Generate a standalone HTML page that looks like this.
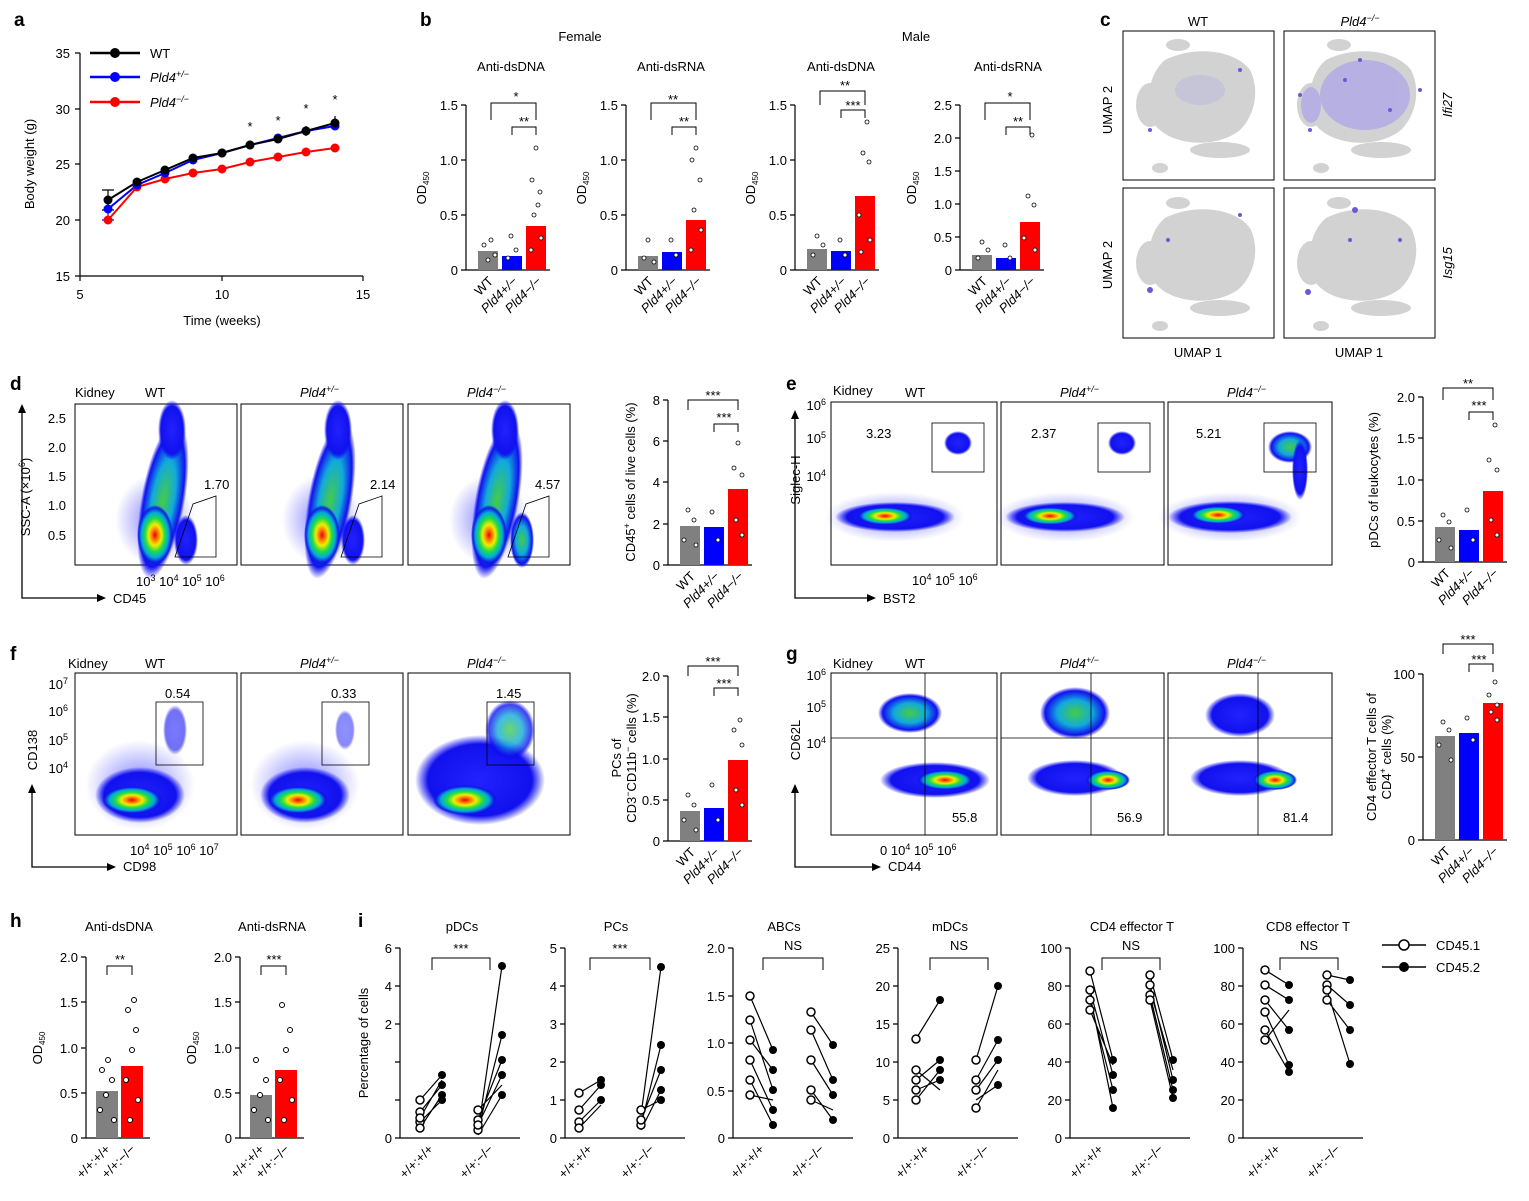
<!DOCTYPE html>
<html><head><meta charset="utf-8"><style>
body{margin:0;background:#fff}
svg{display:block;font-family:"Liberation Sans",Arial,sans-serif}
.t{font-size:13px}.s{font-size:12px}.b{font-size:19px;font-weight:bold}
.i{font-style:italic}
</style></head><body>
<svg width="1529" height="1201" viewBox="0 0 1529 1201" xmlns="http://www.w3.org/2000/svg">
<defs>
<radialGradient id="h"><stop offset="0" stop-color="#e00"/><stop offset="0.2" stop-color="#f80"/><stop offset="0.35" stop-color="#ee0"/><stop offset="0.55" stop-color="#2d4"/><stop offset="0.75" stop-color="#0ad"/><stop offset="0.9" stop-color="#12d"/><stop offset="1" stop-color="#00f" stop-opacity="0"/></radialGradient>
<radialGradient id="g"><stop offset="0" stop-color="#4c4"/><stop offset="0.5" stop-color="#1ad"/><stop offset="0.85" stop-color="#11e"/><stop offset="1" stop-color="#00f" stop-opacity="0"/></radialGradient>
<radialGradient id="bl"><stop offset="0" stop-color="#22f"/><stop offset="0.8" stop-color="#11e"/><stop offset="1" stop-color="#00f" stop-opacity="0"/></radialGradient>
<radialGradient id="sp"><stop offset="0" stop-color="#00f" stop-opacity="0.5"/><stop offset="1" stop-color="#00f" stop-opacity="0"/></radialGradient>
</defs>
<g fill="#000" stroke="none">
<text class="b" x="14" y="26">a</text><text class="b" x="420" y="26">b</text><text class="b" x="1100" y="26">c</text>
<text class="b" x="10" y="390">d</text><text class="b" x="786" y="390">e</text>
<text class="b" x="10" y="660">f</text><text class="b" x="786" y="660">g</text>
<text class="b" x="10" y="927">h</text><text class="b" x="358" y="927">i</text>
</g>

<!-- Panel a -->
<g stroke="#000" stroke-width="1.2" fill="none">
<path d="M80 53V276H363M75 53h5M75 109h5M75 164h5M75 220h5M75 276h5M80 276v5M222 276v5M363 276v5"/>
</g>
<g class="t" text-anchor="end"><text x="70" y="58">35</text><text x="70" y="114">30</text><text x="70" y="169">25</text><text x="70" y="225">20</text><text x="70" y="281">15</text></g>
<g class="t" text-anchor="middle"><text x="80" y="299">5</text><text x="222" y="299">10</text><text x="363" y="299">15</text><text x="222" y="325">Time (weeks)</text></g>
<text class="t" transform="translate(34 164) rotate(-90)" text-anchor="middle">Body weight (g)</text>
<polyline fill="none" stroke="#f00" stroke-width="2" points="108,220 137,187 165,179 193,173 222,169 250,162 278,157 306,152 335,148"/>
<polyline fill="none" stroke="#00f" stroke-width="2" points="108,209 137,185 165,173 193,160 222,153 250,145 278,138 306,131 335,126"/>
<polyline fill="none" stroke="#000" stroke-width="2" points="108,200 137,182 165,170 193,158 222,153 250,145 278,139 306,131 335,123"/>
<g stroke="#000" stroke-width="1.2"><path d="M108 190v20M137 178v9M306 126v10M335 116v13M102 190h12M102 210h12"/><path stroke="#00f" d="M108 198v22M102 220h12"/></g>
<g fill="#f00"><circle cx="108" cy="220" r="4.5"/><circle cx="137" cy="187" r="4.5"/><circle cx="165" cy="179" r="4.5"/><circle cx="193" cy="173" r="4.5"/><circle cx="222" cy="169" r="4.5"/><circle cx="250" cy="162" r="4.5"/><circle cx="278" cy="157" r="4.5"/><circle cx="306" cy="152" r="4.5"/><circle cx="335" cy="148" r="4.5"/></g>
<g fill="#00f"><circle cx="108" cy="209" r="4.5"/><circle cx="137" cy="185" r="4.5"/><circle cx="165" cy="173" r="4.5"/><circle cx="193" cy="160" r="4.5"/><circle cx="222" cy="153" r="4.5"/><circle cx="250" cy="145" r="4.5"/><circle cx="278" cy="138" r="4.5"/><circle cx="306" cy="131" r="4.5"/><circle cx="335" cy="126" r="4.5"/></g>
<g fill="#000"><circle cx="108" cy="200" r="4.5"/><circle cx="137" cy="182" r="4.5"/><circle cx="165" cy="170" r="4.5"/><circle cx="193" cy="158" r="4.5"/><circle cx="222" cy="153" r="4.5"/><circle cx="250" cy="145" r="4.5"/><circle cx="278" cy="139" r="4.5"/><circle cx="306" cy="131" r="4.5"/><circle cx="335" cy="123" r="4.5"/></g>
<g class="t" text-anchor="middle"><text x="250" y="131">*</text><text x="278" y="125">*</text><text x="306" y="113">*</text><text x="335" y="104">*</text></g>
<g stroke-width="2.5"><path stroke="#000" d="M90 53h50"/><path stroke="#00f" d="M90 77h50"/><path stroke="#f00" d="M90 102h50"/></g>
<circle cx="115" cy="53" r="5"/><circle cx="115" cy="77" r="5" fill="#00f"/><circle cx="115" cy="102" r="5" fill="#f00"/>
<g class="t"><text x="150" y="58">WT</text><text x="150" y="82" class="i t">Pld4<tspan font-size="9" dy="-5">+/−</tspan></text><text x="150" y="107" class="i t">Pld4<tspan font-size="9" dy="-5">−/−</tspan></text></g>

<!-- Panel b -->
<g class="t" text-anchor="middle"><text x="580" y="41">Female</text><text x="916" y="41">Male</text>
<text x="511" y="71">Anti-dsDNA</text><text x="671" y="71">Anti-dsRNA</text><text x="841" y="71">Anti-dsDNA</text><text x="1008" y="71">Anti-dsRNA</text></g>
<g transform="translate(466 0)">
<path fill="none" stroke="#000" stroke-width="1.2" d="M0 105V270H84M-5 105h5M-5 160h5M-5 215h5M-5 270h5"/>
<g class="t" text-anchor="end"><text x="-8" y="110">1.5</text><text x="-8" y="165">1.0</text><text x="-8" y="220">0.5</text><text x="-8" y="275">0</text></g>
<text class="t" transform="translate(-40 188) rotate(-90)" text-anchor="middle">OD<tspan font-size="8" dy="3">450</tspan></text>
<rect x="12" y="251" width="20" height="19" fill="#808080"/><rect x="36" y="256" width="20" height="14" fill="#00f"/><rect x="60" y="226" width="20" height="44" fill="#f00"/>
<g fill="#fff" stroke="#000" stroke-width="0.8"><circle cx="18" cy="245" r="2"/><circle cx="25" cy="240" r="2"/><circle cx="22" cy="260" r="2"/><circle cx="29" cy="255" r="2"/><circle cx="45" cy="236" r="2"/><circle cx="42" cy="258" r="2"/><circle cx="50" cy="250" r="2"/><circle cx="70" cy="148" r="2"/><circle cx="66" cy="180" r="2"/><circle cx="74" cy="192" r="2"/><circle cx="68" cy="215" r="2"/><circle cx="75" cy="238" r="2"/><circle cx="65" cy="250" r="2"/><circle cx="72" cy="205" r="2"/></g>
<path fill="none" stroke="#000" d="M25 120v-17h45v17M46 135v-8h24v8"/>
<g class="t" text-anchor="middle"><text x="50" y="101">*</text><text x="58" y="126">**</text></g>
<g class="t" text-anchor="end"><text transform="translate(28 282) rotate(-45)">WT</text><text class="i" transform="translate(52 282) rotate(-45)">Pld4+/−</text><text class="i" transform="translate(76 282) rotate(-45)">Pld4−/−</text></g>
</g>
<g transform="translate(626 0)">
<path fill="none" stroke="#000" stroke-width="1.2" d="M0 105V270H84M-5 105h5M-5 160h5M-5 215h5M-5 270h5"/>
<g class="t" text-anchor="end"><text x="-8" y="110">1.5</text><text x="-8" y="165">1.0</text><text x="-8" y="220">0.5</text><text x="-8" y="275">0</text></g>
<text class="t" transform="translate(-40 188) rotate(-90)" text-anchor="middle">OD<tspan font-size="8" dy="3">450</tspan></text>
<rect x="12" y="256" width="20" height="14" fill="#808080"/><rect x="36" y="252" width="20" height="18" fill="#00f"/><rect x="60" y="220" width="20" height="50" fill="#f00"/>
<g fill="#fff" stroke="#000" stroke-width="0.8"><circle cx="22" cy="240" r="2"/><circle cx="18" cy="258" r="2"/><circle cx="28" cy="262" r="2"/><circle cx="45" cy="240" r="2"/><circle cx="50" cy="255" r="2"/><circle cx="70" cy="148" r="2"/><circle cx="66" cy="160" r="2"/><circle cx="74" cy="180" r="2"/><circle cx="68" cy="210" r="2"/><circle cx="75" cy="230" r="2"/><circle cx="65" cy="250" r="2"/></g>
<path fill="none" stroke="#000" d="M25 120v-17h45v17M46 135v-8h24v8"/>
<g class="t" text-anchor="middle"><text x="47" y="104">**</text><text x="58" y="126">**</text></g>
<g class="t" text-anchor="end"><text transform="translate(28 282) rotate(-45)">WT</text><text class="i" transform="translate(52 282) rotate(-45)">Pld4+/−</text><text class="i" transform="translate(76 282) rotate(-45)">Pld4−/−</text></g>
</g>
<g transform="translate(795 0)">
<path fill="none" stroke="#000" stroke-width="1.2" d="M0 105V270H84M-5 105h5M-5 160h5M-5 215h5M-5 270h5"/>
<g class="t" text-anchor="end"><text x="-8" y="110">1.5</text><text x="-8" y="165">1.0</text><text x="-8" y="220">0.5</text><text x="-8" y="275">0</text></g>
<text class="t" transform="translate(-40 188) rotate(-90)" text-anchor="middle">OD<tspan font-size="8" dy="3">450</tspan></text>
<rect x="12" y="249" width="20" height="21" fill="#808080"/><rect x="36" y="251" width="20" height="19" fill="#00f"/><rect x="60" y="196" width="20" height="74" fill="#f00"/>
<g fill="#fff" stroke="#000" stroke-width="0.8"><circle cx="22" cy="236" r="2"/><circle cx="18" cy="255" r="2"/><circle cx="28" cy="245" r="2"/><circle cx="45" cy="240" r="2"/><circle cx="50" cy="255" r="2"/><circle cx="72" cy="122" r="2"/><circle cx="68" cy="153" r="2"/><circle cx="74" cy="162" r="2"/><circle cx="64" cy="215" r="2"/><circle cx="75" cy="240" r="2"/><circle cx="66" cy="252" r="2"/></g>
<path fill="none" stroke="#000" d="M25 105v-14h45v14M46 118v-8h24v8"/>
<g class="t" text-anchor="middle"><text x="50" y="90">**</text><text x="58" y="110">***</text></g>
<g class="t" text-anchor="end"><text transform="translate(28 282) rotate(-45)">WT</text><text class="i" transform="translate(52 282) rotate(-45)">Pld4+/−</text><text class="i" transform="translate(76 282) rotate(-45)">Pld4−/−</text></g>
</g>
<g transform="translate(960 0)">
<path fill="none" stroke="#000" stroke-width="1.2" d="M0 105V270H84M-5 105h5M-5 138h5M-5 171h5M-5 204h5M-5 237h5M-5 270h5"/>
<g class="t" text-anchor="end"><text x="-8" y="110">2.5</text><text x="-8" y="143">2.0</text><text x="-8" y="176">1.5</text><text x="-8" y="209">1.0</text><text x="-8" y="242">0.5</text><text x="-8" y="275">0</text></g>
<text class="t" transform="translate(-44 188) rotate(-90)" text-anchor="middle">OD<tspan font-size="8" dy="3">450</tspan></text>
<rect x="12" y="255" width="20" height="15" fill="#808080"/><rect x="36" y="258" width="20" height="12" fill="#00f"/><rect x="60" y="222" width="20" height="48" fill="#f00"/>
<g fill="#fff" stroke="#000" stroke-width="0.8"><circle cx="22" cy="242" r="2"/><circle cx="18" cy="258" r="2"/><circle cx="28" cy="250" r="2"/><circle cx="45" cy="245" r="2"/><circle cx="50" cy="258" r="2"/><circle cx="72" cy="135" r="2"/><circle cx="68" cy="196" r="2"/><circle cx="74" cy="205" r="2"/><circle cx="64" cy="238" r="2"/><circle cx="75" cy="250" r="2"/></g>
<path fill="none" stroke="#000" d="M25 120v-17h45v17M46 135v-8h24v8"/>
<g class="t" text-anchor="middle"><text x="50" y="101">*</text><text x="58" y="126">**</text></g>
<g class="t" text-anchor="end"><text transform="translate(28 282) rotate(-45)">WT</text><text class="i" transform="translate(52 282) rotate(-45)">Pld4+/−</text><text class="i" transform="translate(76 282) rotate(-45)">Pld4−/−</text></g>
</g>

<!-- Panel c -->
<g class="t" text-anchor="middle"><text x="1198" y="26">WT</text><text x="1360" y="26" class="i">Pld4<tspan font-size="9" dy="-5">−/−</tspan></text>
<text x="1198" y="357">UMAP 1</text><text x="1359" y="357">UMAP 1</text>
<text transform="translate(1112 110) rotate(-90)">UMAP 2</text><text transform="translate(1112 265) rotate(-90)">UMAP 2</text>
<text class="i" transform="translate(1452 105) rotate(-90)">Ifi27</text><text class="i" transform="translate(1452 263) rotate(-90)">Isg15</text></g>
<g fill="none" stroke="#000" stroke-width="1"><rect x="1123" y="31" width="151" height="149"/><rect x="1284" y="31" width="151" height="149"/><rect x="1123" y="188" width="151" height="150"/><rect x="1284" y="188" width="151" height="150"/></g>
<g fill="#d2d2d2">
<path d="M1165 60c30-15 70-10 85 10c10 20 5 45-10 60c-25 20-70 15-85-5c-10-20-8-50 10-65z"/><ellipse cx="1150" cy="105" rx="14" ry="22"/><ellipse cx="1220" cy="150" rx="30" ry="8"/><ellipse cx="1178" cy="45" rx="12" ry="6"/><ellipse cx="1160" cy="168" rx="8" ry="5"/>
<path d="M1326 60c30-15 70-10 85 10c10 20 5 45-10 60c-25 20-70 15-85-5c-10-20-8-50 10-65z"/><ellipse cx="1311" cy="105" rx="14" ry="22"/><ellipse cx="1381" cy="150" rx="30" ry="8"/><ellipse cx="1339" cy="45" rx="12" ry="6"/><ellipse cx="1321" cy="168" rx="8" ry="5"/>
<path d="M1165 218c30-15 70-10 85 10c10 20 5 45-10 60c-25 20-70 15-85-5c-10-20-8-50 10-65z"/><ellipse cx="1150" cy="263" rx="14" ry="22"/><ellipse cx="1220" cy="308" rx="30" ry="8"/><ellipse cx="1178" cy="203" rx="12" ry="6"/><ellipse cx="1160" cy="326" rx="8" ry="5"/>
<path d="M1326 218c30-15 70-10 85 10c10 20 5 45-10 60c-25 20-70 15-85-5c-10-20-8-50 10-65z"/><ellipse cx="1311" cy="263" rx="14" ry="22"/><ellipse cx="1381" cy="308" rx="30" ry="8"/><ellipse cx="1339" cy="203" rx="12" ry="6"/><ellipse cx="1321" cy="326" rx="8" ry="5"/>
</g>
<g fill="#b0aae6" opacity="0.8"><ellipse cx="1365" cy="95" rx="45" ry="35"/><ellipse cx="1311" cy="105" rx="10" ry="18"/><ellipse cx="1200" cy="90" rx="25" ry="15" opacity="0.4"/></g>
<g fill="#6a5ad8"><circle cx="1150" cy="130" r="2"/><circle cx="1240" cy="70" r="2"/><circle cx="1345" cy="80" r="2"/><circle cx="1390" cy="110" r="2"/><circle cx="1310" cy="130" r="2"/><circle cx="1300" cy="95" r="2"/><circle cx="1420" cy="90" r="2"/><circle cx="1360" cy="60" r="2"/><circle cx="1150" cy="290" r="3"/><circle cx="1240" cy="215" r="2"/><circle cx="1168" cy="240" r="2"/><circle cx="1355" cy="210" r="3"/><circle cx="1308" cy="292" r="3"/><circle cx="1400" cy="240" r="2"/><circle cx="1350" cy="240" r="2"/></g>

<!-- Panel d flow -->
<g class="t"><text x="75" y="397">Kidney</text><text x="145" y="397">WT</text><text x="300" y="397" class="i">Pld4<tspan font-size="9" dy="-5">+/−</tspan></text><text x="467" y="397" class="i">Pld4<tspan font-size="9" dy="-5">−/−</tspan></text></g>
<g fill="none" stroke="#000" stroke-width="1"><rect x="75" y="404" width="162" height="161"/><rect x="241" y="404" width="162" height="161"/><rect x="408" y="404" width="162" height="161"/></g>
<g class="t" text-anchor="end"><text x="66" y="423">2.5</text><text x="66" y="452">2.0</text><text x="66" y="481">1.5</text><text x="66" y="510">1.0</text><text x="66" y="540">0.5</text></g>
<text class="t" transform="translate(30 497) rotate(-90)" text-anchor="middle">SSC-A (×10<tspan font-size="9" dy="-5">6</tspan><tspan dy="5">)</tspan></text>
<path fill="none" stroke="#000" stroke-width="1.3" d="M22 410V598H100"/><path d="M22 404l-4 9h8zM106 598l-9-4v8z"/>
<text class="t" x="113" y="603">CD45</text>
<text class="t" x="136" y="586">10<tspan font-size="9" dy="-5">3</tspan><tspan dy="5"> 10</tspan><tspan font-size="9" dy="-5">4</tspan><tspan dy="5"> 10</tspan><tspan font-size="9" dy="-5">5</tspan><tspan dy="5"> 10</tspan><tspan font-size="9" dy="-5">6</tspan></text>
<g>
<ellipse cx="155" cy="520" rx="40" ry="45" fill="url(#sp)"/><ellipse cx="163" cy="500" rx="22" ry="80" fill="url(#g)" transform="rotate(10 163 500)"/><ellipse cx="172" cy="430" rx="14" ry="30" fill="url(#bl)"/><ellipse cx="155" cy="535" rx="18" ry="30" fill="url(#h)"/><ellipse cx="186" cy="540" rx="12" ry="25" fill="url(#bl)"/>
<ellipse cx="322" cy="520" rx="40" ry="45" fill="url(#sp)"/><ellipse cx="330" cy="500" rx="22" ry="80" fill="url(#g)" transform="rotate(10 330 500)"/><ellipse cx="338" cy="430" rx="14" ry="30" fill="url(#bl)"/><ellipse cx="322" cy="535" rx="18" ry="30" fill="url(#h)"/><ellipse cx="353" cy="540" rx="12" ry="25" fill="url(#bl)"/>
<ellipse cx="489" cy="520" rx="40" ry="45" fill="url(#sp)"/><ellipse cx="497" cy="500" rx="22" ry="80" fill="url(#g)" transform="rotate(10 497 500)"/><ellipse cx="505" cy="430" rx="14" ry="30" fill="url(#bl)"/><ellipse cx="489" cy="535" rx="18" ry="30" fill="url(#h)"/><ellipse cx="522" cy="540" rx="12" ry="28" fill="url(#g)"/>
</g>
<g fill="none" stroke="#000" stroke-width="0.8"><path d="M175 557l18-53 23-8v61z"/><path d="M341 557l18-53 23-8v61z"/><path d="M508 557l18-53 23-8v61z"/></g>
<g class="t"><text x="204" y="489">1.70</text><text x="370" y="489">2.14</text><text x="535" y="489">4.57</text></g>
<g transform="translate(668 0)">
<path fill="none" stroke="#000" stroke-width="1.2" d="M0 400V565H84M-5 400h5M-5 441h5M-5 482h5M-5 524h5M-5 565h5"/>
<g class="t" text-anchor="end"><text x="-8" y="405">8</text><text x="-8" y="446">6</text><text x="-8" y="487">4</text><text x="-8" y="529">2</text><text x="-8" y="570">0</text></g>
<text class="t" transform="translate(-33 482) rotate(-90)" text-anchor="middle">CD45<tspan font-size="9" dy="-5">+</tspan><tspan dy="5"> cells of  live cells (%)</tspan></text>
<rect x="12" y="526" width="20" height="39" fill="#808080"/><rect x="36" y="527" width="20" height="38" fill="#00f"/><rect x="60" y="489" width="20" height="76" fill="#f00"/>
<g fill="#fff" stroke="#000" stroke-width="0.8"><circle cx="20" cy="510" r="2"/><circle cx="26" cy="520" r="2"/><circle cx="16" cy="540" r="2"/><circle cx="28" cy="545" r="2"/><circle cx="44" cy="512" r="2"/><circle cx="50" cy="540" r="2"/><circle cx="70" cy="443" r="2"/><circle cx="66" cy="468" r="2"/><circle cx="74" cy="475" r="2"/><circle cx="68" cy="520" r="2"/><circle cx="74" cy="535" r="2"/></g>
<path fill="none" stroke="#000" d="M20 410v-10h50v10M46 432v-8h24v8"/>
<g class="t" text-anchor="middle"><text x="45" y="400">***</text><text x="56" y="422">***</text></g>
<g class="t" text-anchor="end"><text transform="translate(28 577) rotate(-45)">WT</text><text class="i" transform="translate(52 577) rotate(-45)">Pld4+/−</text><text class="i" transform="translate(76 577) rotate(-45)">Pld4−/−</text></g>
</g>

<!-- Panel e -->
<g class="t"><text x="833" y="395">Kidney</text><text x="905" y="397">WT</text><text x="1060" y="397" class="i">Pld4<tspan font-size="9" dy="-5">+/−</tspan></text><text x="1227" y="397" class="i">Pld4<tspan font-size="9" dy="-5">−/−</tspan></text></g>
<g fill="none" stroke="#000" stroke-width="1"><rect x="831" y="402" width="166" height="163"/><rect x="1001" y="402" width="163" height="163"/><rect x="1168" y="402" width="164" height="163"/></g>
<g class="t" text-anchor="end"><text x="826" y="410">10<tspan font-size="9" dy="-5">6</tspan></text><text x="826" y="443">10<tspan font-size="9" dy="-5">5</tspan></text><text x="826" y="481">10<tspan font-size="9" dy="-5">4</tspan></text></g>
<text class="t" transform="translate(800 480) rotate(-90)" text-anchor="middle">Siglec-H</text>
<path fill="none" stroke="#000" stroke-width="1.3" d="M795 415V598H870"/><path d="M795 410l-4 9h8zM876 598l-9-4v8z"/>
<text class="t" x="883" y="603">BST2</text>
<text class="t" x="912" y="585">10<tspan font-size="9" dy="-5">4</tspan><tspan dy="5">  10</tspan><tspan font-size="9" dy="-5">5</tspan><tspan dy="5">  10</tspan><tspan font-size="9" dy="-5">6</tspan></text>
<g>
<ellipse cx="895" cy="517" rx="70" ry="25" fill="url(#sp)"/><ellipse cx="895" cy="517" rx="60" ry="15" fill="url(#bl)"/><ellipse cx="885" cy="516" rx="28" ry="9" fill="url(#h)"/><ellipse cx="958" cy="443" rx="14" ry="12" fill="url(#bl)"/>
<ellipse cx="1065" cy="517" rx="70" ry="25" fill="url(#sp)"/><ellipse cx="1065" cy="517" rx="60" ry="15" fill="url(#bl)"/><ellipse cx="1050" cy="516" rx="28" ry="9" fill="url(#h)"/><ellipse cx="1122" cy="443" rx="14" ry="12" fill="url(#bl)"/>
<ellipse cx="1230" cy="517" rx="72" ry="25" fill="url(#sp)"/><ellipse cx="1230" cy="517" rx="62" ry="16" fill="url(#bl)"/><ellipse cx="1218" cy="515" rx="28" ry="9" fill="url(#h)"/><ellipse cx="1290" cy="447" rx="22" ry="16" fill="url(#g)"/><ellipse cx="1300" cy="470" rx="8" ry="30" fill="url(#bl)"/>
</g>
<g fill="none" stroke="#000" stroke-width="0.8"><rect x="932" y="423" width="52" height="49"/><rect x="1098" y="423" width="52" height="49"/><rect x="1264" y="423" width="52" height="49"/></g>
<g class="t"><text x="866" y="438">3.23</text><text x="1031" y="438">2.37</text><text x="1196" y="438">5.21</text></g>
<g transform="translate(1423 0)">
<path fill="none" stroke="#000" stroke-width="1.2" d="M0 397V562H84M-5 397h5M-5 438h5M-5 480h5M-5 521h5M-5 562h5"/>
<g class="t" text-anchor="end"><text x="-8" y="402">2.0</text><text x="-8" y="443">1.5</text><text x="-8" y="485">1.0</text><text x="-8" y="526">0.5</text><text x="-8" y="567">0</text></g>
<text class="t" transform="translate(-45 480) rotate(-90)" text-anchor="middle">pDCs of leukocytes (%)</text>
<rect x="12" y="527" width="20" height="35" fill="#808080"/><rect x="36" y="530" width="20" height="32" fill="#00f"/><rect x="60" y="491" width="20" height="71" fill="#f00"/>
<g fill="#fff" stroke="#000" stroke-width="0.8"><circle cx="20" cy="515" r="2"/><circle cx="26" cy="522" r="2"/><circle cx="16" cy="540" r="2"/><circle cx="28" cy="548" r="2"/><circle cx="44" cy="510" r="2"/><circle cx="50" cy="540" r="2"/><circle cx="72" cy="425" r="2"/><circle cx="66" cy="460" r="2"/><circle cx="74" cy="470" r="2"/><circle cx="68" cy="520" r="2"/><circle cx="74" cy="535" r="2"/></g>
<path fill="none" stroke="#000" d="M20 400v-12h50v12M46 420v-8h24v8"/>
<g class="t" text-anchor="middle"><text x="45" y="388">**</text><text x="56" y="410">***</text></g>
<g class="t" text-anchor="end"><text transform="translate(28 574) rotate(-45)">WT</text><text class="i" transform="translate(52 574) rotate(-45)">Pld4+/−</text><text class="i" transform="translate(76 574) rotate(-45)">Pld4−/−</text></g>
</g>

<!-- Panel f -->
<g class="t"><text x="68" y="668">Kidney</text><text x="145" y="668">WT</text><text x="300" y="668" class="i">Pld4<tspan font-size="9" dy="-5">+/−</tspan></text><text x="467" y="668" class="i">Pld4<tspan font-size="9" dy="-5">−/−</tspan></text></g>
<g fill="none" stroke="#000" stroke-width="1"><rect x="75" y="673" width="162" height="162"/><rect x="241" y="673" width="162" height="162"/><rect x="408" y="673" width="162" height="162"/></g>
<g class="t" text-anchor="end"><text x="68" y="689">10<tspan font-size="9" dy="-5">7</tspan></text><text x="68" y="716">10<tspan font-size="9" dy="-5">6</tspan></text><text x="68" y="745">10<tspan font-size="9" dy="-5">5</tspan></text><text x="68" y="773">10<tspan font-size="9" dy="-5">4</tspan></text></g>
<text class="t" transform="translate(37 750) rotate(-90)" text-anchor="middle">CD138</text>
<path fill="none" stroke="#000" stroke-width="1.3" d="M32 790V867H110"/><path d="M32 784l-4 9h8zM116 867l-9-4v8z"/>
<text class="t" x="123" y="871">CD98</text>
<text class="t" x="130" y="855">10<tspan font-size="9" dy="-5">4</tspan><tspan dy="5"> 10</tspan><tspan font-size="9" dy="-5">5</tspan><tspan dy="5"> 10</tspan><tspan font-size="9" dy="-5">6</tspan><tspan dy="5"> 10</tspan><tspan font-size="9" dy="-5">7</tspan></text>
<g>
<ellipse cx="140" cy="785" rx="55" ry="45" fill="url(#sp)"/><ellipse cx="140" cy="795" rx="45" ry="28" fill="url(#bl)"/><ellipse cx="132" cy="800" rx="30" ry="14" fill="url(#h)"/><ellipse cx="175" cy="730" rx="12" ry="25" fill="url(#bl)" opacity="0.6"/>
<ellipse cx="305" cy="785" rx="55" ry="45" fill="url(#sp)"/><ellipse cx="305" cy="795" rx="45" ry="28" fill="url(#bl)"/><ellipse cx="298" cy="800" rx="30" ry="14" fill="url(#h)"/><ellipse cx="345" cy="730" rx="10" ry="20" fill="url(#bl)" opacity="0.5"/>
<ellipse cx="480" cy="780" rx="65" ry="45" fill="url(#bl)"/><ellipse cx="465" cy="800" rx="32" ry="15" fill="url(#h)"/><ellipse cx="510" cy="730" rx="25" ry="30" fill="url(#g)" opacity="0.8"/>
</g>
<g fill="none" stroke="#000" stroke-width="0.8"><rect x="156" y="702" width="47" height="63"/><rect x="322" y="702" width="47" height="63"/><rect x="487" y="702" width="47" height="63"/></g>
<g class="t"><text x="165" y="698">0.54</text><text x="331" y="698">0.33</text><text x="496" y="698">1.45</text></g>
<g transform="translate(668 0)">
<path fill="none" stroke="#000" stroke-width="1.2" d="M0 676V841H84M-5 676h5M-5 717h5M-5 759h5M-5 800h5M-5 841h5"/>
<g class="t" text-anchor="end"><text x="-8" y="681">2.0</text><text x="-8" y="722">1.5</text><text x="-8" y="764">1.0</text><text x="-8" y="805">0.5</text><text x="-8" y="846">0</text></g>
<text class="t" transform="translate(-47 758) rotate(-90)" text-anchor="middle">PCs of</text>
<text class="t" transform="translate(-32 758) rotate(-90)" text-anchor="middle">CD3<tspan font-size="9" dy="-5">−</tspan><tspan dy="5">CD11b</tspan><tspan font-size="9" dy="-5">−</tspan><tspan dy="5"> cells (%)</tspan></text>
<rect x="12" y="811" width="20" height="30" fill="#808080"/><rect x="36" y="808" width="20" height="33" fill="#00f"/><rect x="60" y="760" width="20" height="81" fill="#f00"/>
<g fill="#fff" stroke="#000" stroke-width="0.8"><circle cx="20" cy="795" r="2"/><circle cx="26" cy="805" r="2"/><circle cx="16" cy="820" r="2"/><circle cx="28" cy="830" r="2"/><circle cx="44" cy="785" r="2"/><circle cx="50" cy="820" r="2"/><circle cx="72" cy="720" r="2"/><circle cx="66" cy="730" r="2"/><circle cx="74" cy="745" r="2"/><circle cx="68" cy="790" r="2"/><circle cx="74" cy="805" r="2"/></g>
<path fill="none" stroke="#000" d="M20 676v-10h50v10M46 696v-8h24v8"/>
<g class="t" text-anchor="middle"><text x="45" y="666">***</text><text x="56" y="688">***</text></g>
<g class="t" text-anchor="end"><text transform="translate(28 853) rotate(-45)">WT</text><text class="i" transform="translate(52 853) rotate(-45)">Pld4+/−</text><text class="i" transform="translate(76 853) rotate(-45)">Pld4−/−</text></g>
</g>

<!-- Panel g -->
<g class="t"><text x="833" y="668">Kidney</text><text x="905" y="668">WT</text><text x="1060" y="668" class="i">Pld4<tspan font-size="9" dy="-5">+/−</tspan></text><text x="1227" y="668" class="i">Pld4<tspan font-size="9" dy="-5">−/−</tspan></text></g>
<g fill="none" stroke="#000" stroke-width="1"><rect x="831" y="673" width="166" height="162"/><rect x="1001" y="673" width="163" height="162"/><rect x="1168" y="673" width="164" height="162"/></g>
<g class="t" text-anchor="end"><text x="826" y="680">10<tspan font-size="9" dy="-5">6</tspan></text><text x="826" y="712">10<tspan font-size="9" dy="-5">5</tspan></text><text x="826" y="748">10<tspan font-size="9" dy="-5">4</tspan></text></g>
<text class="t" transform="translate(800 740) rotate(-90)" text-anchor="middle">CD62L</text>
<path fill="none" stroke="#000" stroke-width="1.3" d="M795 790V867H875"/><path d="M795 784l-4 9h8zM881 867l-9-4v8z"/>
<text class="t" x="888" y="871">CD44</text>
<text class="t" x="880" y="855">0    10<tspan font-size="9" dy="-5">4</tspan><tspan dy="5">  10</tspan><tspan font-size="9" dy="-5">5</tspan><tspan dy="5">  10</tspan><tspan font-size="9" dy="-5">6</tspan></text>
<g>
<ellipse cx="910" cy="713" rx="32" ry="20" fill="url(#g)"/><ellipse cx="935" cy="780" rx="55" ry="18" fill="url(#bl)"/><ellipse cx="945" cy="780" rx="28" ry="10" fill="url(#h)"/>
<ellipse cx="1075" cy="713" rx="35" ry="26" fill="url(#g)"/><ellipse cx="1075" cy="778" rx="48" ry="18" fill="url(#bl)"/><ellipse cx="1108" cy="780" rx="22" ry="10" fill="url(#h)"/>
<ellipse cx="1240" cy="715" rx="35" ry="22" fill="url(#bl)"/><ellipse cx="1240" cy="778" rx="50" ry="18" fill="url(#bl)"/><ellipse cx="1275" cy="780" rx="22" ry="10" fill="url(#h)"/>
</g>
<g fill="none" stroke="#000" stroke-width="0.8"><path d="M831 738H997M925 673V835M1001 738H1164M1091 673V835M1168 738H1332M1258 673V835"/></g>
<g class="t"><text x="952" y="822">55.8</text><text x="1117" y="822">56.9</text><text x="1283" y="822">81.4</text></g>
<g transform="translate(1423 0)">
<path fill="none" stroke="#000" stroke-width="1.2" d="M0 674V840H84M-5 674h5M-5 757h5M-5 840h5"/>
<g class="t" text-anchor="end"><text x="-8" y="679">100</text><text x="-8" y="762">50</text><text x="-8" y="845">0</text></g>
<text class="t" transform="translate(-47 757) rotate(-90)" text-anchor="middle">CD4 effector T cells of</text>
<text class="t" transform="translate(-32 757) rotate(-90)" text-anchor="middle">CD4<tspan font-size="9" dy="-5">+</tspan><tspan dy="5"> cells (%)</tspan></text>
<rect x="12" y="736" width="20" height="104" fill="#808080"/><rect x="36" y="733" width="20" height="107" fill="#00f"/><rect x="60" y="703" width="20" height="137" fill="#f00"/>
<g fill="#fff" stroke="#000" stroke-width="0.8"><circle cx="20" cy="722" r="2"/><circle cx="26" cy="730" r="2"/><circle cx="16" cy="745" r="2"/><circle cx="28" cy="760" r="2"/><circle cx="44" cy="718" r="2"/><circle cx="50" cy="740" r="2"/><circle cx="72" cy="682" r="2"/><circle cx="66" cy="695" r="2"/><circle cx="74" cy="705" r="2"/><circle cx="68" cy="712" r="2"/><circle cx="74" cy="720" r="2"/></g>
<path fill="none" stroke="#000" d="M20 654v-10h50v10M46 672v-8h24v8"/>
<g class="t" text-anchor="middle"><text x="45" y="644">***</text><text x="56" y="664">***</text></g>
<g class="t" text-anchor="end"><text transform="translate(28 852) rotate(-45)">WT</text><text class="i" transform="translate(52 852) rotate(-45)">Pld4+/−</text><text class="i" transform="translate(76 852) rotate(-45)">Pld4−/−</text></g>
</g>

<!-- Panel h -->
<g class="t" text-anchor="middle"><text x="119" y="931">Anti-dsDNA</text><text x="272" y="931">Anti-dsRNA</text></g>
<g transform="translate(86 0)">
<path fill="none" stroke="#000" stroke-width="1.2" d="M0 957V1138H64M-5 957h5M-5 1002h5M-5 1048h5M-5 1093h5M-5 1138h5"/>
<g class="t" text-anchor="end"><text x="-8" y="962">2.0</text><text x="-8" y="1007">1.5</text><text x="-8" y="1053">1.0</text><text x="-8" y="1098">0.5</text><text x="-8" y="1143">0</text></g>
<text class="t" transform="translate(-44 1048) rotate(-90)" text-anchor="middle">OD<tspan font-size="8" dy="3">450</tspan></text>
<rect x="10" y="1091" width="22" height="47" fill="#808080"/><rect x="35" y="1066" width="22" height="72" fill="#f00"/>
<g fill="#fff" stroke="#000" stroke-width="1"><circle cx="16" cy="1070" r="2.5"/><circle cx="26" cy="1080" r="2.5"/><circle cx="20" cy="1095" r="2.5"/><circle cx="14" cy="1110" r="2.5"/><circle cx="28" cy="1120" r="2.5"/><circle cx="22" cy="1060" r="2.5"/><circle cx="42" cy="1010" r="2.5"/><circle cx="50" cy="1030" r="2.5"/><circle cx="46" cy="1050" r="2.5"/><circle cx="40" cy="1080" r="2.5"/><circle cx="52" cy="1100" r="2.5"/><circle cx="44" cy="1120" r="2.5"/><circle cx="48" cy="1000" r="2.5"/></g>
<path fill="none" stroke="#000" d="M21 975v-9h25v9"/><text class="t" x="34" y="964" text-anchor="middle">**</text>
<g class="t" text-anchor="end"><text transform="translate(25 1150) rotate(-45)">+/+:+/+</text><text transform="translate(50 1150) rotate(-45)">+/+:−/−</text></g>
</g>
<g transform="translate(240 0)">
<path fill="none" stroke="#000" stroke-width="1.2" d="M0 957V1138H64M-5 957h5M-5 1002h5M-5 1048h5M-5 1093h5M-5 1138h5"/>
<g class="t" text-anchor="end"><text x="-8" y="962">2.0</text><text x="-8" y="1007">1.5</text><text x="-8" y="1053">1.0</text><text x="-8" y="1098">0.5</text><text x="-8" y="1143">0</text></g>
<text class="t" transform="translate(-44 1048) rotate(-90)" text-anchor="middle">OD<tspan font-size="8" dy="3">450</tspan></text>
<rect x="10" y="1095" width="22" height="43" fill="#808080"/><rect x="35" y="1070" width="22" height="68" fill="#f00"/>
<g fill="#fff" stroke="#000" stroke-width="1"><circle cx="16" cy="1060" r="2.5"/><circle cx="26" cy="1080" r="2.5"/><circle cx="20" cy="1095" r="2.5"/><circle cx="14" cy="1110" r="2.5"/><circle cx="28" cy="1120" r="2.5"/><circle cx="42" cy="1005" r="2.5"/><circle cx="50" cy="1030" r="2.5"/><circle cx="46" cy="1050" r="2.5"/><circle cx="40" cy="1080" r="2.5"/><circle cx="52" cy="1100" r="2.5"/><circle cx="44" cy="1120" r="2.5"/></g>
<path fill="none" stroke="#000" d="M21 975v-9h25v9"/><text class="t" x="34" y="964" text-anchor="middle">***</text>
<g class="t" text-anchor="end"><text transform="translate(25 1150) rotate(-45)">+/+:+/+</text><text transform="translate(50 1150) rotate(-45)">+/+:−/−</text></g>
</g>

<!-- Panel i -->
<text class="t" transform="translate(368 1043) rotate(-90)" text-anchor="middle">Percentage of cells</text>
<g class="t" text-anchor="middle"><text x="462" y="931">pDCs</text><text x="616" y="931">PCs</text><text x="784" y="931">ABCs</text><text x="950" y="931">mDCs</text><text x="1132" y="931">CD4 effector T</text><text x="1308" y="931">CD8 effector T</text></g>
<g transform="translate(400 0)">
<path fill="none" stroke="#000" stroke-width="1.2" d="M0 948V1138H120M-5 948h5M-5 986h5M-5 1024h5M-5 1062h5M-5 1100h5M-5 1138h5"/>
<g class="t" text-anchor="end"><text x="-8" y="953">6</text><text x="-8" y="991">4</text><text x="-8" y="1029">2</text><text x="-8" y="1143">0</text></g>
<path fill="none" stroke="#000" d="M32 970v-12h58v12"/><text class="t" x="61" y="953" text-anchor="middle">***</text>
<g stroke="#000" stroke-width="1.2"><path d="M20 1112L42 1085M20 1122L42 1100M20 1100L42 1075M20 1128L42 1095M20 1118L42 1080M78 1130L102 1035M78 1120L102 1060M78 1125L102 1075M78 1135L102 1095M78 1110L102 1085M80 1118L102 966"/></g>
<g fill="#fff" stroke="#000" stroke-width="1.5"><circle cx="20" cy="1112" r="4"/><circle cx="20" cy="1122" r="4"/><circle cx="20" cy="1100" r="4"/><circle cx="20" cy="1128" r="4"/><circle cx="20" cy="1118" r="4"/><circle cx="78" cy="1130" r="4"/><circle cx="78" cy="1120" r="4"/><circle cx="78" cy="1125" r="4"/><circle cx="78" cy="1110" r="4"/></g>
<g><circle cx="42" cy="1085" r="4"/><circle cx="42" cy="1100" r="4"/><circle cx="42" cy="1075" r="4"/><circle cx="42" cy="1095" r="4"/><circle cx="102" cy="1035" r="4"/><circle cx="102" cy="1060" r="4"/><circle cx="102" cy="1075" r="4"/><circle cx="102" cy="1095" r="4"/><circle cx="102" cy="966" r="4"/></g>
<g class="t" text-anchor="end"><text transform="translate(34 1150) rotate(-45)">+/+:+/+</text><text transform="translate(94 1150) rotate(-45)">+/+:−/−</text></g>
</g>
<g transform="translate(565 0)">
<path fill="none" stroke="#000" stroke-width="1.2" d="M0 948V1138H120M-5 948h5M-5 986h5M-5 1024h5M-5 1062h5M-5 1100h5M-5 1138h5"/>
<g class="t" text-anchor="end"><text x="-8" y="953">5</text><text x="-8" y="991">4</text><text x="-8" y="1029">3</text><text x="-8" y="1067">2</text><text x="-8" y="1105">1</text><text x="-8" y="1143">0</text></g>
<path fill="none" stroke="#000" d="M25 970v-12h60v12"/><text class="t" x="55" y="953" text-anchor="middle">***</text>
<g stroke="#000" stroke-width="1.2"><path d="M14 1110L36 1085M14 1122L36 1100M14 1093L36 1080M14 1128L36 1105M76 1125L96 1045M76 1120L96 1070M76 1130L96 1090M76 1110L96 1100M76 1115L96 967"/></g>
<g fill="#fff" stroke="#000" stroke-width="1.5"><circle cx="14" cy="1110" r="4"/><circle cx="14" cy="1122" r="4"/><circle cx="14" cy="1093" r="4"/><circle cx="14" cy="1128" r="4"/><circle cx="76" cy="1125" r="4"/><circle cx="76" cy="1120" r="4"/><circle cx="76" cy="1110" r="4"/></g>
<g><circle cx="36" cy="1085" r="4"/><circle cx="36" cy="1100" r="4"/><circle cx="36" cy="1080" r="4"/><circle cx="96" cy="1045" r="4"/><circle cx="96" cy="1070" r="4"/><circle cx="96" cy="1090" r="4"/><circle cx="96" cy="1100" r="4"/><circle cx="96" cy="967" r="4"/></g>
<g class="t" text-anchor="end"><text transform="translate(28 1150) rotate(-45)">+/+:+/+</text><text transform="translate(90 1150) rotate(-45)">+/+:−/−</text></g>
</g>
<g transform="translate(733 0)">
<path fill="none" stroke="#000" stroke-width="1.2" d="M0 948V1138H120M-5 948h5M-5 996h5M-5 1043h5M-5 1091h5M-5 1138h5"/>
<g class="t" text-anchor="end"><text x="-8" y="953">2.0</text><text x="-8" y="1001">1.5</text><text x="-8" y="1048">1.0</text><text x="-8" y="1096">0.5</text><text x="-8" y="1143">0</text></g>
<path fill="none" stroke="#000" d="M30 970v-12h60v12"/><text class="t" x="60" y="950" text-anchor="middle">NS</text>
<g stroke="#000" stroke-width="1.2"><path d="M17 996L40 1050M17 1020L40 1090M17 1040L40 1070M17 1060L40 1110M17 1080L40 1125M17 1095L40 1100M78 1012L100 1045M78 1030L100 1080M78 1060L100 1095M78 1090L100 1120M78 1100L100 1110"/></g>
<g fill="#fff" stroke="#000" stroke-width="1.5"><circle cx="17" cy="996" r="4"/><circle cx="17" cy="1020" r="4"/><circle cx="17" cy="1040" r="4"/><circle cx="17" cy="1060" r="4"/><circle cx="17" cy="1080" r="4"/><circle cx="17" cy="1095" r="4"/><circle cx="78" cy="1012" r="4"/><circle cx="78" cy="1030" r="4"/><circle cx="78" cy="1060" r="4"/><circle cx="78" cy="1090" r="4"/><circle cx="78" cy="1100" r="4"/></g>
<g><circle cx="40" cy="1050" r="4"/><circle cx="40" cy="1090" r="4"/><circle cx="40" cy="1070" r="4"/><circle cx="40" cy="1110" r="4"/><circle cx="40" cy="1125" r="4"/><circle cx="100" cy="1045" r="4"/><circle cx="100" cy="1080" r="4"/><circle cx="100" cy="1095" r="4"/><circle cx="100" cy="1120" r="4"/></g>
<g class="t" text-anchor="end"><text transform="translate(32 1150) rotate(-45)">+/+:+/+</text><text transform="translate(92 1150) rotate(-45)">+/+:−/−</text></g>
</g>
<g transform="translate(898 0)">
<path fill="none" stroke="#000" stroke-width="1.2" d="M0 948V1138H120M-5 948h5M-5 986h5M-5 1024h5M-5 1062h5M-5 1100h5M-5 1138h5"/>
<g class="t" text-anchor="end"><text x="-8" y="953">25</text><text x="-8" y="991">20</text><text x="-8" y="1029">15</text><text x="-8" y="1067">10</text><text x="-8" y="1105">5</text><text x="-8" y="1143">0</text></g>
<path fill="none" stroke="#000" d="M32 970v-12h58v12"/><text class="t" x="61" y="950" text-anchor="middle">NS</text>
<g stroke="#000" stroke-width="1.2"><path d="M18 1039L42 1000M18 1080L42 1060M18 1090L42 1080M18 1100L42 1070M18 1070L42 1090M78 1060L100 986M78 1080L100 1040M78 1090L100 1060M78 1100L100 1085M78 1108L100 1070"/></g>
<g fill="#fff" stroke="#000" stroke-width="1.5"><circle cx="18" cy="1039" r="4"/><circle cx="18" cy="1080" r="4"/><circle cx="18" cy="1090" r="4"/><circle cx="18" cy="1100" r="4"/><circle cx="18" cy="1070" r="4"/><circle cx="78" cy="1060" r="4"/><circle cx="78" cy="1080" r="4"/><circle cx="78" cy="1090" r="4"/><circle cx="78" cy="1108" r="4"/></g>
<g><circle cx="42" cy="1000" r="4"/><circle cx="42" cy="1060" r="4"/><circle cx="42" cy="1080" r="4"/><circle cx="42" cy="1070" r="4"/><circle cx="100" cy="986" r="4"/><circle cx="100" cy="1040" r="4"/><circle cx="100" cy="1060" r="4"/><circle cx="100" cy="1085" r="4"/></g>
<g class="t" text-anchor="end"><text transform="translate(32 1150) rotate(-45)">+/+:+/+</text><text transform="translate(92 1150) rotate(-45)">+/+:−/−</text></g>
</g>
<g transform="translate(1070 0)">
<path fill="none" stroke="#000" stroke-width="1.2" d="M0 948V1138H120M-5 948h5M-5 986h5M-5 1024h5M-5 1062h5M-5 1100h5M-5 1138h5"/>
<g class="t" text-anchor="end"><text x="-8" y="953">100</text><text x="-8" y="991">80</text><text x="-8" y="1029">60</text><text x="-8" y="1067">40</text><text x="-8" y="1105">20</text><text x="-8" y="1143">0</text></g>
<path fill="none" stroke="#000" d="M32 970v-12h58v12"/><text class="t" x="61" y="950" text-anchor="middle">NS</text>
<g stroke="#000" stroke-width="1.2"><path d="M20 971L43 1060M20 990L43 1075M20 1000L43 1090M20 1010L43 1065M20 995L43 1108M80 975L103 1060M80 985L103 1080M80 995L103 1090M80 1000L103 1098M80 990L103 1070"/></g>
<g fill="#fff" stroke="#000" stroke-width="1.5"><circle cx="20" cy="971" r="4"/><circle cx="20" cy="990" r="4"/><circle cx="20" cy="1000" r="4"/><circle cx="20" cy="1010" r="4"/><circle cx="80" cy="975" r="4"/><circle cx="80" cy="985" r="4"/><circle cx="80" cy="995" r="4"/><circle cx="80" cy="1000" r="4"/></g>
<g><circle cx="43" cy="1060" r="4"/><circle cx="43" cy="1075" r="4"/><circle cx="43" cy="1090" r="4"/><circle cx="43" cy="1108" r="4"/><circle cx="103" cy="1060" r="4"/><circle cx="103" cy="1080" r="4"/><circle cx="103" cy="1090" r="4"/><circle cx="103" cy="1098" r="4"/></g>
<g class="t" text-anchor="end"><text transform="translate(34 1150) rotate(-45)">+/+:+/+</text><text transform="translate(94 1150) rotate(-45)">+/+:−/−</text></g>
</g>
<g transform="translate(1243 0)">
<path fill="none" stroke="#000" stroke-width="1.2" d="M0 948V1138H120M-5 948h5M-5 986h5M-5 1024h5M-5 1062h5M-5 1100h5M-5 1138h5"/>
<g class="t" text-anchor="end"><text x="-8" y="953">100</text><text x="-8" y="991">80</text><text x="-8" y="1029">60</text><text x="-8" y="1067">40</text><text x="-8" y="1105">20</text><text x="-8" y="1143">0</text></g>
<path fill="none" stroke="#000" d="M37 970v-12h58v12"/><text class="t" x="66" y="950" text-anchor="middle">NS</text>
<g stroke="#000" stroke-width="1.2"><path d="M22 970L46 985M22 985L46 1000M22 1000L46 1030M22 1012L46 1065M22 1030L46 1072M22 1040L46 1010M84 975L107 980M84 985L107 1005M84 1000L107 1030M84 990L107 1064"/></g>
<g fill="#fff" stroke="#000" stroke-width="1.5"><circle cx="22" cy="970" r="4"/><circle cx="22" cy="985" r="4"/><circle cx="22" cy="1000" r="4"/><circle cx="22" cy="1012" r="4"/><circle cx="22" cy="1030" r="4"/><circle cx="22" cy="1040" r="4"/><circle cx="84" cy="975" r="4"/><circle cx="84" cy="985" r="4"/><circle cx="84" cy="1000" r="4"/><circle cx="84" cy="990" r="4"/></g>
<g><circle cx="46" cy="985" r="4"/><circle cx="46" cy="1000" r="4"/><circle cx="46" cy="1030" r="4"/><circle cx="46" cy="1065" r="4"/><circle cx="46" cy="1072" r="4"/><circle cx="107" cy="980" r="4"/><circle cx="107" cy="1005" r="4"/><circle cx="107" cy="1030" r="4"/><circle cx="107" cy="1064" r="4"/></g>
<g class="t" text-anchor="end"><text transform="translate(38 1150) rotate(-45)">+/+:+/+</text><text transform="translate(98 1150) rotate(-45)">+/+:−/−</text></g>
</g>
<path stroke="#000" stroke-width="1.5" d="M1382 945h44M1382 967h44"/>
<circle cx="1404" cy="945" r="5" fill="#fff" stroke="#000" stroke-width="1.5"/><circle cx="1404" cy="967" r="5"/>
<g class="t"><text x="1436" y="950">CD45.1</text><text x="1436" y="972">CD45.2</text></g>
</svg>
</body></html>
